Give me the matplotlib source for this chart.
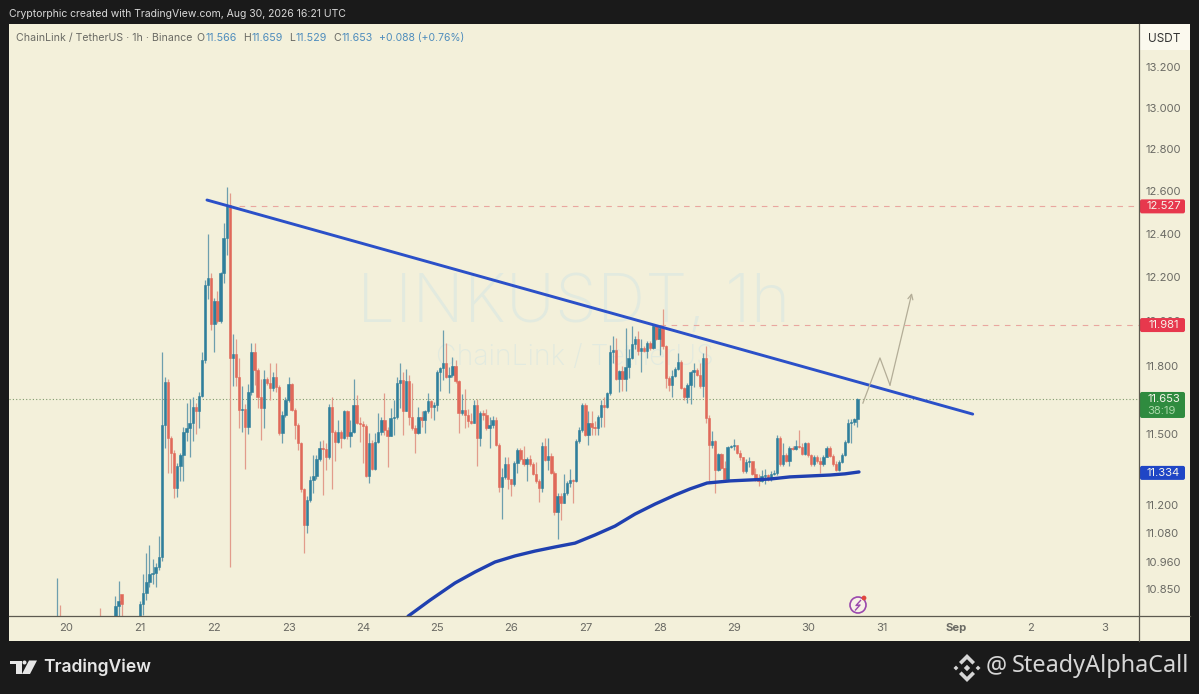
import matplotlib
matplotlib.use("Agg")
import matplotlib.pyplot as plt
from matplotlib.patches import FancyBboxPatch, Polygon, Rectangle, Circle
from matplotlib.ticker import NullFormatter, NullLocator
import numpy as np

W, H = 1199, 694
DARK = "#1a1a1a"
PANEL = "#f3f0da"
UP = "#2f7f9c"
DOWN = "#e0695a"
UP_WICK = "#6d9fae"
DOWN_WICK = "#e29c8b"
GREY_TEXT = "#6a6a64"

plt.rcParams["font.family"] = ["Inter", "DejaVu Sans"]

# hourly candles from Aug 21 00:00, each opens at the previous close
first_open = 10.70
closes = [
    10.79, 10.834, 10.88, 10.91, 10.915, 10.94, 10.98, 11.54, 11.727, 11.483,
    11.42, 11.27, 11.365, 11.41, 11.51, 11.525, 11.55, 11.62, 11.60, 11.665,
    11.823, 12.163, 12.195, 11.985, 12.09, 12.0, 12.217, 12.38, 12.533, 11.835,
    11.85, 11.75, 11.605, 11.61, 11.53, 11.685, 11.86, 11.78, 11.66, 11.615,
    11.74, 11.725, 11.70, 11.75, 11.705, 11.505, 11.585, 11.65, 11.72, 11.605,
    11.54, 11.46, 11.265, 11.115, 11.22, 11.305, 11.32, 11.395, 11.44, 11.435,
    11.40, 11.62, 11.51, 11.465, 11.51, 11.485, 11.60, 11.49, 11.51, 11.627,
    11.55, 11.545, 11.535, 11.32, 11.46, 11.35, 11.465, 11.51, 11.56, 11.52,
    11.49, 11.57, 11.575, 11.725, 11.735, 11.60, 11.73, 11.575, 11.525, 11.505,
    11.575, 11.56, 11.60, 11.645, 11.62, 11.627, 11.77, 11.79, 11.81, 11.75,
    11.76, 11.80, 11.73, 11.59, 11.605, 11.585, 11.555, 11.55, 11.625, 11.485,
    11.59, 11.585, 11.525, 11.54, 11.56, 11.455, 11.275, 11.315, 11.37, 11.31,
    11.285, 11.375, 11.43, 11.395, 11.37, 11.395, 11.37, 11.33, 11.30, 11.27,
    11.45, 11.39, 11.405, 11.335, 11.17, 11.235, 11.205, 11.25, 11.29, 11.305,
    11.30, 11.47, 11.52, 11.627, 11.495, 11.55, 11.53, 11.525, 11.575, 11.627,
    11.62, 11.68, 11.86, 11.87, 11.74, 11.775, 11.74, 11.795, 11.835, 11.895,
    11.92, 11.865, 11.88, 11.865, 11.90, 11.88, 11.975, 11.92, 11.97, 11.885,
    11.745, 11.715, 11.755, 11.785, 11.815, 11.70, 11.66, 11.715, 11.77, 11.78,
    11.76, 11.71, 11.835, 11.57, 11.455, 11.47, 11.345, 11.415, 11.355, 11.31,
    11.445, 11.45, 11.452, 11.42, 11.40, 11.34, 11.38, 11.385, 11.33, 11.31,
    11.30, 11.32, 11.325, 11.31, 11.33, 11.335, 11.485, 11.37, 11.41, 11.385,
    11.44, 11.435, 11.45, 11.445, 11.415, 11.46, 11.41, 11.37, 11.40, 11.385,
    11.37, 11.40, 11.44, 11.405, 11.37, 11.345, 11.38, 11.41, 11.465, 11.55,
    11.553, 11.565, 11.653,
]
highs = [
    10.80, 10.91, 11.00, 11.03, 10.975, 10.955, 11.07, 11.86, 11.75, 11.74,
    11.49, 11.43, 11.375, 11.42, 11.53, 11.635, 11.653, 11.66, 11.635, 11.685,
    11.86, 12.185, 12.40, 12.217, 12.105, 12.135, 12.22, 12.45, 12.62, 12.59,
    11.94, 11.92, 11.835, 11.71, 11.63, 11.72, 11.90, 11.90, 11.79, 11.74,
    11.78, 11.75, 11.81, 11.77, 11.81, 11.715, 11.60, 11.66, 11.75, 11.725,
    11.615, 11.55, 11.465, 11.27, 11.235, 11.32, 11.41, 11.41, 11.47, 11.475,
    11.46, 11.63, 11.66, 11.52, 11.56, 11.52, 11.605, 11.605, 11.56, 11.74,
    11.67, 11.575, 11.555, 11.545, 11.505, 11.475, 11.505, 11.59, 11.575, 11.68,
    11.53, 11.615, 11.65, 11.75, 11.81, 11.77, 11.785, 11.76, 11.725, 11.54,
    11.62, 11.60, 11.605, 11.68, 11.65, 11.64, 11.78, 11.795, 11.96, 11.90,
    11.795, 11.84, 11.825, 11.735, 11.675, 11.695, 11.61, 11.59, 11.65, 11.655,
    11.60, 11.605, 11.61, 11.575, 11.58, 11.575, 11.46, 11.355, 11.40, 11.40,
    11.31, 11.385, 11.44, 11.44, 11.45, 11.40, 11.41, 11.38, 11.38, 11.31,
    11.465, 11.485, 11.485, 11.42, 11.34, 11.25, 11.25, 11.33, 11.30, 11.35,
    11.31, 11.48, 11.53, 11.635, 11.635, 11.60, 11.60, 11.555, 11.585, 11.65,
    11.66, 11.685, 11.89, 11.93, 11.925, 11.78, 11.80, 11.97, 11.875, 11.975,
    11.93, 11.955, 11.92, 11.885, 11.91, 11.91, 11.98, 11.98, 11.98, 12.055,
    11.89, 11.755, 11.78, 11.795, 11.855, 11.825, 11.705, 11.725, 11.775, 11.81,
    11.79, 11.81, 11.855, 11.885, 11.585, 11.515, 11.475, 11.42, 11.42, 11.385,
    11.45, 11.455, 11.48, 11.45, 11.43, 11.40, 11.395, 11.40, 11.38, 11.355,
    11.33, 11.345, 11.35, 11.33, 11.34, 11.345, 11.495, 11.49, 11.46, 11.42,
    11.45, 11.45, 11.475, 11.52, 11.46, 11.465, 11.465, 11.415, 11.41, 11.41,
    11.40, 11.41, 11.45, 11.45, 11.415, 11.385, 11.39, 11.42, 11.475, 11.565,
    11.565, 11.57, 11.659,
]
lows = [
    10.70, 10.745, 10.805, 10.86, 10.87, 10.86, 10.93, 10.965, 11.44, 11.335,
    11.335, 11.226, 11.23, 11.30, 11.30, 11.47, 11.40, 11.47, 11.50, 11.525,
    11.66, 11.81, 12.10, 11.96, 11.86, 11.99, 11.99, 12.17, 12.30, 10.94,
    11.71, 11.71, 11.525, 11.51, 11.35, 11.50, 11.67, 11.715, 11.615, 11.475,
    11.525, 11.715, 11.65, 11.69, 11.685, 11.495, 11.46, 11.575, 11.64, 11.60,
    11.48, 11.43, 11.255, 11.00, 11.08, 11.21, 11.25, 11.31, 11.385, 11.24,
    11.345, 11.395, 11.265, 11.385, 11.46, 11.44, 11.48, 11.48, 11.445, 11.505,
    11.545, 11.465, 11.375, 11.315, 11.29, 11.345, 11.345, 11.46, 11.495, 11.495,
    11.36, 11.49, 11.495, 11.565, 11.615, 11.495, 11.60, 11.54, 11.52, 11.42,
    11.50, 11.53, 11.505, 11.59, 11.57, 11.56, 11.60, 11.69, 11.735, 11.745,
    11.68, 11.75, 11.725, 11.505, 11.585, 11.525, 11.53, 11.545, 11.55, 11.365,
    11.45, 11.56, 11.52, 11.44, 11.525, 11.45, 11.255, 11.14, 11.31, 11.265,
    11.235, 11.28, 11.335, 11.385, 11.365, 11.30, 11.365, 11.325, 11.29, 11.21,
    11.255, 11.385, 11.345, 11.33, 11.155, 11.055, 11.135, 11.205, 11.24, 11.275,
    11.205, 11.295, 11.46, 11.51, 11.49, 11.455, 11.495, 11.495, 11.495, 11.53,
    11.53, 11.615, 11.67, 11.81, 11.735, 11.685, 11.69, 11.69, 11.745, 11.83,
    11.875, 11.845, 11.77, 11.86, 11.835, 11.87, 11.875, 11.915, 11.845, 11.875,
    11.70, 11.69, 11.66, 11.75, 11.78, 11.695, 11.65, 11.635, 11.63, 11.705,
    11.755, 11.70, 11.66, 11.55, 11.30, 11.44, 11.25, 11.34, 11.35, 11.305,
    11.305, 11.44, 11.43, 11.415, 11.39, 11.335, 11.335, 11.36, 11.325, 11.30,
    11.28, 11.295, 11.285, 11.30, 11.30, 11.325, 11.325, 11.365, 11.365, 11.38,
    11.365, 11.43, 11.43, 11.44, 11.41, 11.41, 11.40, 11.365, 11.365, 11.375,
    11.335, 11.365, 11.40, 11.40, 11.365, 11.34, 11.34, 11.375, 11.405, 11.46,
    11.46, 11.54, 11.529,
]

# the few candles before Aug 21 that reach above the bottom of the pane
early_hours = [-27, -26, -13, -8, -7, -6]
early_opens = [10.72, 10.74, 10.73, 10.74, 10.78, 10.83]
early_highs = [10.895, 10.785, 10.775, 10.82, 10.885, 10.81]
early_lows = [10.70, 10.72, 10.72, 10.72, 10.74, 10.74]
early_closes = [10.74, 10.73, 10.72, 10.78, 10.80, 10.79]

# moving average, x is the day of August
ma_days = [24.61, 24.906, 25.243, 25.512, 25.782, 26.051, 26.32, 26.59, 26.86, 27.13,
           27.40, 27.668, 27.938, 28.207, 28.41, 28.64, 28.95, 29.22, 29.49, 29.757,
           30.03, 30.30, 30.50, 30.687]
ma_values = [10.74, 10.805, 10.875, 10.92, 10.961, 10.986, 11.006, 11.023, 11.039, 11.073,
             11.11, 11.16, 11.202, 11.24, 11.266, 11.291, 11.30, 11.304, 11.308, 11.317,
             11.321, 11.325, 11.33, 11.338]

trend_days = [21.90, 32.22]
trend_values = [12.557, 11.587]
projection_days = [30.74, 30.97, 31.105, 31.40]
projection_values = [11.635, 11.834, 11.714, 12.126]

resistance_top = 12.527
resistance_low = 11.981
last_price = 11.653
ma_last = 11.334

price_ticks = [13.2, 13.0, 12.8, 12.6, 12.4, 12.2, 12.0, 11.8, 11.5, 11.2, 11.08, 10.96, 10.85]
price_labels = ["13.200", "13.000", "12.800", "12.600", "12.400", "12.200", "12.000",
                "11.800", "11.500", "11.200", "11.080", "10.960", "10.850"]
day_ticks = list(range(20, 35))
day_labels = ["20", "21", "22", "23", "24", "25", "26", "27", "28", "29", "30", "31", "Sep", "2", "3"]


def draw_candles(ax, days, opens, highs, lows, closes):
    days = np.asarray(days)
    opens = np.asarray(opens)
    closes = np.asarray(closes)
    rising = closes >= opens
    wick_colors = np.where(rising, UP_WICK, DOWN_WICK)
    ax.vlines(days, lows, highs, colors=wick_colors, linewidth=0.9, zorder=2)
    body_colors = np.where(rising, UP, DOWN)
    ax.bar(days, np.abs(closes - opens), bottom=np.minimum(opens, closes), width=0.032,
           color=body_colors, edgecolor=body_colors, linewidth=0.4, zorder=2.2)


fig = plt.figure(figsize=(W / 100, H / 100), dpi=100, facecolor=DARK)

ax = fig.add_axes([9 / W, 1 - 616 / H, 1130 / W, 592 / H], facecolor=PANEL, zorder=1)
ax.set_yscale("log")
ax.set_xlim(19.232, 34.461)
ax.set_ylim(10.741, 13.415)
ax.set_yticks(price_ticks, price_labels)
ax.yaxis.set_minor_locator(NullLocator())
ax.yaxis.set_minor_formatter(NullFormatter())
ax.yaxis.tick_right()
ax.set_xticks(day_ticks, day_labels)
ax.tick_params(axis="y", length=0, pad=4.8, labelsize=8.1, labelcolor=GREY_TEXT)
ax.tick_params(axis="x", length=0, pad=5.2, labelsize=8.1, labelcolor=GREY_TEXT)
ax.get_xticklabels()[12].set_fontweight("bold")
for side in ["top", "left", "bottom", "right"]:
    ax.spines[side].set_visible(False)

# pixel overlay for the chrome around the pane
ov = fig.add_axes([0, 0, 1, 1], zorder=5)
ov.set_xlim(0, W)
ov.set_ylim(H, 0)
ov.axis("off")
ov.patch.set_alpha(0)

fig.add_artist(Rectangle((9 / W, 1 - 641 / H), 1181 / W, 617 / H, transform=fig.transFigure,
                         facecolor=PANEL, edgecolor="none", zorder=-1))

ax.text(574, 304, "LINKUSDT, 1h", transform=ov.transData, ha="center", va="center",
        fontsize=48.5, fontweight="light", color="#e2eadf", zorder=0.5)
ax.text(574.5, 357, "ChainLink / TetherUS", transform=ov.transData, ha="center", va="center",
        fontsize=20.5, fontweight="light", color="#e2eadf", zorder=0.5)

hours = np.arange(len(closes))
opens = [first_open] + closes[:-1]
draw_candles(ax, 21 + np.array(early_hours) / 24, early_opens, early_highs, early_lows, early_closes)
draw_candles(ax, 21 + hours / 24, opens, highs, lows, closes)

ax.axhline(last_price, color="#7f9a6c", linewidth=0.8, linestyle=(0, (1, 2)), zorder=1.5)
ax.plot([22.18, 34.461], [resistance_top, resistance_top], color="#e9a79f", linewidth=0.8,
        linestyle=(0, (5, 5)), zorder=1.5)
ax.plot([28.0, 34.461], [resistance_low, resistance_low], color="#e9a79f", linewidth=0.8,
        linestyle=(0, (5, 5)), zorder=1.5)

ax.plot(trend_days, trend_values, color="#2b50c8", linewidth=2.1, solid_capstyle="round", zorder=3)
ax.plot(ma_days, ma_values, color="#1f40b0", linewidth=2.4, solid_capstyle="round", zorder=3)

ax.plot(projection_days[:3], projection_values[:3], color="#b3ad97", linewidth=0.9, zorder=3)
ax.annotate("", xy=(projection_days[3], projection_values[3]),
            xytext=(projection_days[2], projection_values[2]),
            arrowprops=dict(arrowstyle="->", color="#b3ad97", lw=0.9, shrinkA=0, shrinkB=0,
                            mutation_scale=9), zorder=3)

# chrome lines
ov.plot([9, 1190], [616, 616], color="#5c5a50", linewidth=0.9)
ov.plot([1139, 1139], [24, 641], color="#5c5a50", linewidth=0.9)

# header
ov.text(9, 14, "Cryptorphic created with TradingView.com, Aug 30, 2026 16:21 UTC",
        color="#d9d9d9", fontsize=7.53, va="center")
ov.text(16, 38, "ChainLink / TetherUS · 1h · Binance", color=GREY_TEXT, fontsize=7.6, va="center")
for px, letter, px_val, value in [(196, "O", 205, "11.566"), (243, "H", 252, "11.659"),
                                  (289, "L", 296, "11.529"), (333, "C", 342, "11.653")]:
    ov.text(px, 38, letter, color=GREY_TEXT, fontsize=7.6, va="center")
    ov.text(px_val, 38, value, color="#4f8dbd", fontsize=7.7, va="center")
ov.text(379, 38, "+0.088 (+0.76%)", color="#4f8dbd", fontsize=7.5, va="center")

# USDT button
ov.add_patch(Rectangle((1140, 24), 50, 26, facecolor="#fbf9ee", edgecolor="none"))
ov.text(1164.5, 38.5, "USDT", color="#333333", fontsize=8.5, ha="center", va="center")


def price_to_px(price):
    return H - ax.transData.transform((20, price))[1]


def price_box(price, color, text, height=14, extra=None):
    y = price_to_px(price)
    top = y - 7
    ov.add_patch(FancyBboxPatch((1140, top), 45, height, boxstyle="round,pad=0,rounding_size=2",
                                facecolor=color, edgecolor="none"))
    ov.text(1163.5, y, text, color="#f6f4ea", fontsize=8.1, ha="center", va="center")
    if extra:
        ov.text(1147, y + 12.5, extra, color="#a9d8a8", fontsize=8.1, ha="left", va="center")


price_box(resistance_top, "#e7384d", "12.527")
price_box(resistance_low, "#e7384d", "11.981")
price_box(last_price, "#2f8b3f", "11.653", height=26, extra="38:19")
price_box(ma_last, "#1f46c6", "11.334")

# purple news marker at the bottom of the pane
ov.add_patch(Circle((858, 605), 8, facecolor="#f7f1e6", edgecolor="#9a48ad", linewidth=1.2))
ov.plot([860.5, 856, 860, 855.5], [600.5, 605.5, 605, 610], color="#9a48ad", linewidth=1.0)
ov.add_patch(Circle((864, 598), 2.4, facecolor="#e0473f", edgecolor="none"))

# TradingView logo
logo_color = "#e6e6e6"
ov.add_patch(Polygon([(10, 660.5), (22, 660.5), (22, 674), (16, 674), (16, 664), (10, 664)],
                     closed=True, facecolor=logo_color, edgecolor="none"))
ov.add_patch(Circle((24.5, 662.5), 2, facecolor=logo_color, edgecolor="none"))
ov.add_patch(Polygon([(29, 660.5), (37, 660.5), (30, 674), (22, 674)],
                     closed=True, facecolor=logo_color, edgecolor="none"))
ov.text(43.5, 667, "TradingView", color=logo_color, fontsize=12.6, fontweight="semibold", va="center")

# Binance mark and handle
cx, cy = 967, 668
mark = "#d6d6d6"
ov.add_patch(Polygon([(cx, cy - 3.2), (cx + 3.2, cy), (cx, cy + 3.2), (cx - 3.2, cy)],
                     closed=True, facecolor=mark, edgecolor="none"))
for sx in (-1, 1):
    ov.add_patch(Polygon([(cx + sx * 13.5, cy), (cx + sx * 11, cy - 2.4), (cx + sx * 8.6, cy),
                          (cx + sx * 11, cy + 2.4)],
                         closed=True, facecolor=mark, edgecolor="none"))
for sy in (-1, 1):
    ov.add_patch(Polygon([(cx, cy + sy * 14), (cx + 8, cy + sy * 6), (cx + 5.4, cy + sy * 3.4),
                          (cx, cy + sy * 8.8), (cx - 5.4, cy + sy * 3.4), (cx - 8, cy + sy * 6)],
                         closed=True, facecolor=mark, edgecolor="none"))
ov.text(986, 666, "@", color="#d6d6d6", fontsize=16.9, family="Noto Sans", va="center")
ov.text(1012, 666, "SteadyAlphaCall", color="#d6d6d6", fontsize=16.9, family="Noto Sans", va="center")

fig.savefig("out.png", dpi=100, facecolor=DARK)
